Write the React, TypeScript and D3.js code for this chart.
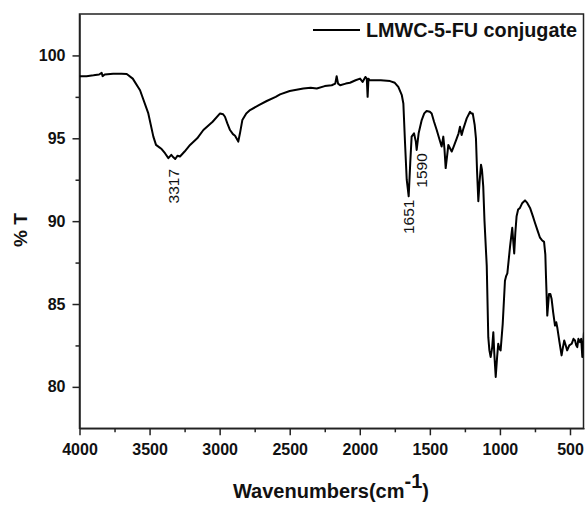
import React, { useEffect, useRef } from "react";
import * as d3 from "d3";

const wavenumbers = [
  4000, 3950, 3900, 3860, 3842, 3835, 3820, 3760, 3700, 3663, 3620, 3568, 3509, 3473, 3454, 3430, 3414, 3390, 3366, 3345,
  3330, 3317, 3300, 3283, 3250, 3211, 3160, 3116, 3050, 2997, 2975, 2962, 2945, 2926, 2905, 2890, 2867, 2855, 2838, 2810,
  2783, 2720, 2664, 2600, 2569, 2500, 2403, 2350, 2307, 2250, 2200, 2175, 2165, 2155, 2140, 2100, 2070, 2030, 1998, 1980,
  1960, 1950, 1944, 1938, 1930, 1904, 1850, 1784, 1750, 1725, 1700, 1689, 1677, 1665, 1651, 1640, 1630, 1613, 1600, 1594,
  1580, 1558, 1540, 1523, 1500, 1487, 1470, 1451, 1430, 1416, 1404, 1396, 1387, 1376, 1368, 1356, 1344, 1330, 1308, 1295,
  1285, 1273, 1260, 1237, 1213, 1205, 1194, 1180, 1171, 1163, 1154, 1145, 1135, 1128, 1119, 1110, 1094, 1083, 1075, 1066,
  1055, 1047, 1040, 1030, 1020, 1012, 1004, 995, 980, 964, 955, 947, 938, 928, 912, 905, 898, 890, 881, 870,
  857, 840, 821, 805, 785, 765, 750, 730, 714, 700, 685, 676, 671, 662, 650, 640, 631, 620, 607, 598,
  591, 575, 560, 550, 541, 530, 520, 505, 488, 475, 464, 455, 448, 440, 429, 420, 412, 400,
];

const transmittance = [
  98.75, 98.75, 98.8, 98.85, 98.95, 98.75, 98.85, 98.9, 98.9, 98.88, 98.6, 97.9, 96.5, 95.1, 94.6, 94.45, 94.35, 94.1, 93.8, 94.0,
  93.85, 93.75, 93.95, 93.9, 94.2, 94.6, 95.0, 95.5, 96.0, 96.5, 96.45, 96.3, 95.9, 95.5, 95.25, 95.15, 94.8, 95.3, 96.1, 96.5,
  96.7, 97.0, 97.25, 97.5, 97.65, 97.85, 98.0, 98.05, 98.0, 98.15, 98.2, 98.3, 98.75, 98.3, 98.2, 98.3, 98.35, 98.5, 98.6, 98.4,
  98.7, 98.6, 97.5, 98.6, 98.5, 98.5, 98.5, 98.45, 98.35, 98.1, 97.6, 97.1, 94.7, 92.5, 91.5, 93.5, 95.1, 95.3, 94.8, 94.3,
  95.3, 96.1, 96.5, 96.65, 96.6, 96.5, 96.0, 95.5, 94.9, 94.5, 95.1, 94.4, 93.2, 94.0, 94.6, 94.4, 94.2, 94.5, 95.0, 95.3,
  95.7, 95.2, 95.6, 96.2, 96.6, 96.5, 96.5, 95.8, 95.0, 93.0, 91.2, 92.4, 93.4, 93.1, 92.1, 90.0, 87.3, 83.0, 82.2, 81.8,
  82.4, 83.3, 82.0, 80.6, 81.8, 82.6, 82.3, 82.2, 83.8, 86.4, 86.7, 86.85, 87.6, 88.45, 89.6, 88.8, 88.05, 89.3, 90.3, 90.7,
  90.8, 91.1, 91.25, 91.1, 90.8, 90.3, 89.9, 89.4, 89.0, 88.85, 88.75, 88.0, 86.6, 84.3, 85.6, 85.6, 85.3, 84.5, 83.7, 83.9,
  83.6, 82.7, 81.9, 82.4, 82.8, 82.5, 82.2, 82.5, 82.6, 82.9, 82.8, 82.5, 82.4, 82.9, 82.7, 82.9, 81.8, 83.3,
];

const xTicks = [4000, 3500, 3000, 2500, 2000, 1500, 1000, 500];
const xMinorTicks = [3750, 3250, 2750, 2250, 1750, 1250, 750];
const yTicks = [80, 85, 90, 95, 100];
const yMinorTicks = [82.5, 87.5, 92.5, 97.5];

const peakLabels = ["3317", "1651", "1590"];
const peakLabelWn = [3330, 1651, 1563];
const peakLabelT = [93.15, 91.3, 94.1];

const seriesName = "LMWC-5-FU conjugate";
const xTitle = "Wavenumbers(cm";
const xTitleSup = "-1";
const yTitle = "% T";

const W = 585;
const H = 506;
const FONT = "'Liberation Sans', Arial, Helvetica, sans-serif";

export default function App() {
  const ref = useRef<SVGSVGElement | null>(null);

  useEffect(() => {
    const svg = d3.select(ref.current);
    svg.selectAll("*").remove();

    const left = 79.5;
    const right = 583.5;
    const top = 14;
    const bottom = 428.3;

    const x = d3.scaleLinear().domain([4000, 400]).range([left, 584]);
    const y = d3.scaleLinear().domain([77.5, 102.5]).range([bottom, top]);

    const data = wavenumbers.map((w, i) => ({ w, t: transmittance[i] }));

    svg
      .append("rect")
      .attr("x", left)
      .attr("y", top)
      .attr("width", right - left)
      .attr("height", bottom - top)
      .attr("fill", "none")
      .attr("stroke", "#222")
      .attr("stroke-width", 1.5);

    const xAxis = svg
      .append("g")
      .attr("transform", `translate(0,${bottom})`)
      .call(
        d3
          .axisBottom(x)
          .tickValues(xTicks)
          .tickSize(7)
          .tickSizeOuter(0)
          .tickPadding(8)
          .tickFormat((d) => String(d))
      );
    xAxis.select(".domain").attr("stroke", "#222").attr("stroke-width", 1.5);
    xAxis.selectAll(".tick line").attr("stroke", "#222").attr("stroke-width", 1.5);
    xAxis
      .selectAll(".tick text")
      .attr("font-family", FONT)
      .attr("font-weight", "bold")
      .attr("font-size", 16)
      .attr("fill", "#111");

    const xMinor = svg
      .append("g")
      .attr("transform", `translate(0,${bottom})`)
      .call(d3.axisBottom(x).tickValues(xMinorTicks).tickSize(4).tickSizeOuter(0).tickFormat(() => ""));
    xMinor.select(".domain").remove();
    xMinor.selectAll(".tick line").attr("stroke", "#222").attr("stroke-width", 1.5);

    const yAxis = svg
      .append("g")
      .attr("transform", `translate(${left},0)`)
      .call(
        d3
          .axisLeft(y)
          .tickValues(yTicks)
          .tickSize(7)
          .tickSizeOuter(0)
          .tickPadding(7)
          .tickFormat((d) => String(d))
      );
    yAxis.select(".domain").attr("stroke", "#222").attr("stroke-width", 1.5);
    yAxis.selectAll(".tick line").attr("stroke", "#222").attr("stroke-width", 1.5);
    yAxis
      .selectAll(".tick text")
      .attr("font-family", FONT)
      .attr("font-weight", "bold")
      .attr("font-size", 16)
      .attr("fill", "#111");

    const yMinor = svg
      .append("g")
      .attr("transform", `translate(${left},0)`)
      .call(d3.axisLeft(y).tickValues(yMinorTicks).tickSize(4).tickSizeOuter(0).tickFormat(() => ""));
    yMinor.select(".domain").remove();
    yMinor.selectAll(".tick line").attr("stroke", "#222").attr("stroke-width", 1.5);

    const line = d3
      .line<{ w: number; t: number }>()
      .x((d) => x(d.w))
      .y((d) => y(d.t))
      .curve(d3.curveLinear);

    svg
      .append("defs")
      .append("clipPath")
      .attr("id", "plotclip")
      .append("rect")
      .attr("x", left)
      .attr("y", top)
      .attr("width", right - left)
      .attr("height", bottom - top);

    svg
      .append("path")
      .datum(data)
      .attr("d", line)
      .attr("fill", "none")
      .attr("stroke", "#000")
      .attr("stroke-width", 2)
      .attr("stroke-linejoin", "round")
      .attr("clip-path", "url(#plotclip)");

    peakLabels.forEach((lab, i) => {
      const px = x(peakLabelWn[i]);
      const py = y(peakLabelT[i]);
      svg
        .append("text")
        .attr("transform", `translate(${px},${py}) rotate(-90)`)
        .attr("text-anchor", "end")
        .attr("dominant-baseline", "central")
        .attr("font-family", FONT)
        .attr("font-size", 15.5)
        .attr("fill", "#111")
        .text(lab);
    });

    svg
      .append("line")
      .attr("x1", 313)
      .attr("x2", 360)
      .attr("y1", 30)
      .attr("y2", 30)
      .attr("stroke", "#000")
      .attr("stroke-width", 2);
    svg
      .append("text")
      .attr("x", 366)
      .attr("y", 37)
      .attr("font-family", FONT)
      .attr("font-weight", "bold")
      .attr("font-size", 19.8)
      .attr("fill", "#111")
      .text(seriesName);

    const xt = svg
      .append("text")
      .attr("x", 331)
      .attr("y", 498)
      .attr("text-anchor", "middle")
      .attr("font-family", FONT)
      .attr("font-weight", "bold")
      .attr("font-size", 20)
      .attr("fill", "#111");
    xt.append("tspan").text(xTitle);
    xt.append("tspan").attr("dy", -10).text(xTitleSup);
    xt.append("tspan").attr("dy", 10).text(")");

    svg
      .append("text")
      .attr("transform", `translate(27,230) rotate(-90)`)
      .attr("text-anchor", "middle")
      .attr("font-family", FONT)
      .attr("font-weight", "bold")
      .attr("font-size", 19)
      .attr("fill", "#111")
      .text(yTitle);
  }, []);

  return (
    <svg
      ref={ref}
      width={W}
      height={H}
      style={{ position: "absolute", left: 0, top: 0, background: "#fff" }}
    />
  );
}
